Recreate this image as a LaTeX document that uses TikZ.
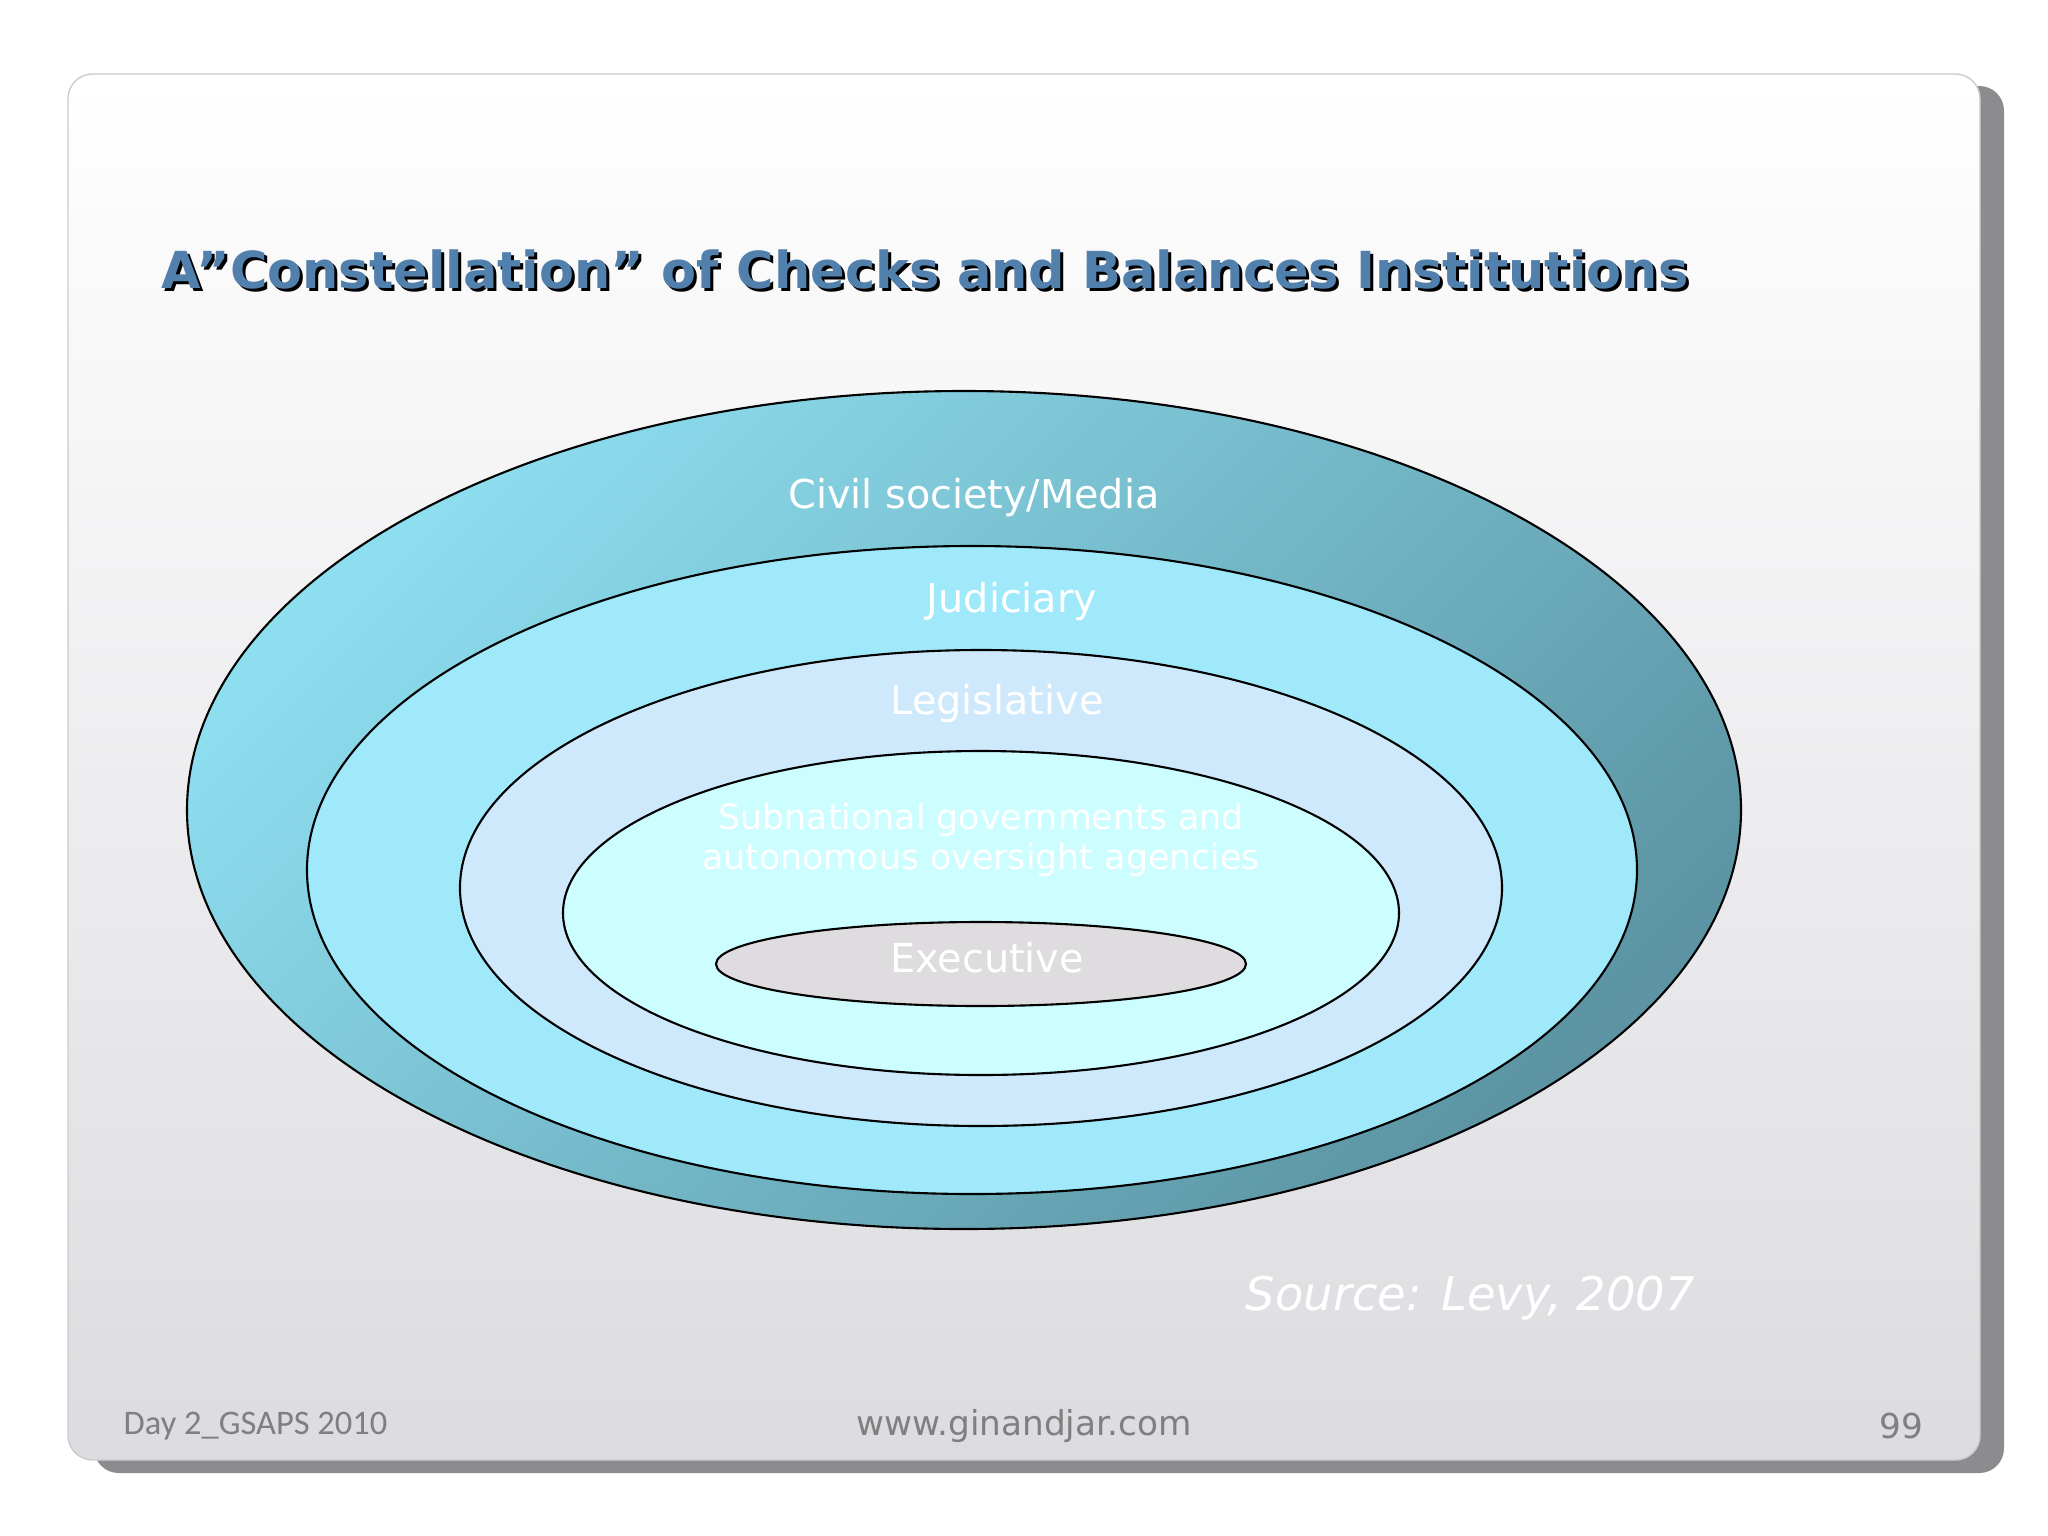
\documentclass[tikz,border=0pt]{standalone}
\usepackage{fontspec}
\setmainfont{DejaVu Sans}
\newfontfamily\footfont{Carlito}
\usetikzlibrary{shadings}

\definecolor{titleblue}{HTML}{5280AD}
\definecolor{civlight}{HTML}{8DDEEF}
\definecolor{civdark}{HTML}{5C94A3}
\definecolor{judcol}{HTML}{9FE9FB}
\definecolor{legcol}{HTML}{CDE9FB}
\definecolor{subcol}{HTML}{CCFDFF}
\definecolor{execol}{HTML}{DEDCDE}
\definecolor{cardbot}{HTML}{DCDBDF}
\definecolor{shadowcol}{HTML}{8C8C8E}
\definecolor{footcol}{HTML}{7F7F7F}

\tikzset{
  ring/.style={draw=black, line width=0.6pt},
  ringlabel/.style={text=white, font=\fontsize{11.3}{14}\selectfont, align=center},
  footlabel/.style={text=footcol, inner sep=0pt, font=\fontsize{9.75}{12}\selectfont}
}

\begin{document}
\begin{tikzpicture}[x=0.01cm,y=-0.01cm]
  \useasboundingbox (0,0) rectangle (2048,1536);
  \fill[white] (0,0) rectangle (2048,1536);
  % slide card and its shadow
  \fill[shadowcol, rounded corners=7pt] (94,86) rectangle (2004,1473);
  \shade[top color=white, bottom color=cardbot, draw=black!20, rounded corners=7pt]
    (68,74) rectangle (1980,1460);
  % title with its shadow
  \node[anchor=west, inner sep=0pt, text=black, font=\bfseries\fontsize{14.5}{18}\selectfont]
    (titleshadow) at (164,272) {A”Constellation” of Checks and Balances Institutions};
  \node[anchor=west, inner sep=0pt, text=titleblue, font=\bfseries\fontsize{14.5}{18}\selectfont]
    (title) at (161,269) {A”Constellation” of Checks and Balances Institutions};
  % nested rings, outside in
  \shade[ring, top color=civlight, bottom color=civdark, shading angle=45]
    (964,810) ellipse [x radius=777, y radius=419];
  \path[ring, fill=judcol] (972,870) ellipse [x radius=665, y radius=324];
  \path[ring, fill=legcol] (981,888) ellipse [x radius=521, y radius=238];
  \path[ring, fill=subcol] (981,913) ellipse [x radius=418, y radius=162];
  \path[ring, fill=execol] (981,964) ellipse [x radius=265, y radius=42];
  % ring labels
  \draw
    (974,498) node[ringlabel] (civil){Civil society/Media}
    (1012,602) node[ringlabel] (judiciary){Judiciary}
    (997,704) node[ringlabel] (legislative){Legislative}
    (981,840) node[ringlabel, font=\fontsize{9.9}{11.5}\selectfont] (subnational){Subnational governments and\\autonomous oversight agencies}
    (987,958) node[ringlabel] (executive){Executive};
  \node[anchor=west, inner sep=0pt, text=white, font=\itshape\fontsize{13.2}{16}\selectfont]
    (source) at (1245,1298) {Source: Levy, 2007};
  % footer
  \node[footlabel, anchor=west, font=\footfont\fontsize{9.8}{12}\selectfont] (day) at (123,1426) {Day 2\_GSAPS 2010};
  \node[footlabel] (site) at (1024,1426) {www.ginandjar.com};
  \node[footlabel, anchor=east] (page) at (1924,1426) {99};
\end{tikzpicture}
\end{document}
